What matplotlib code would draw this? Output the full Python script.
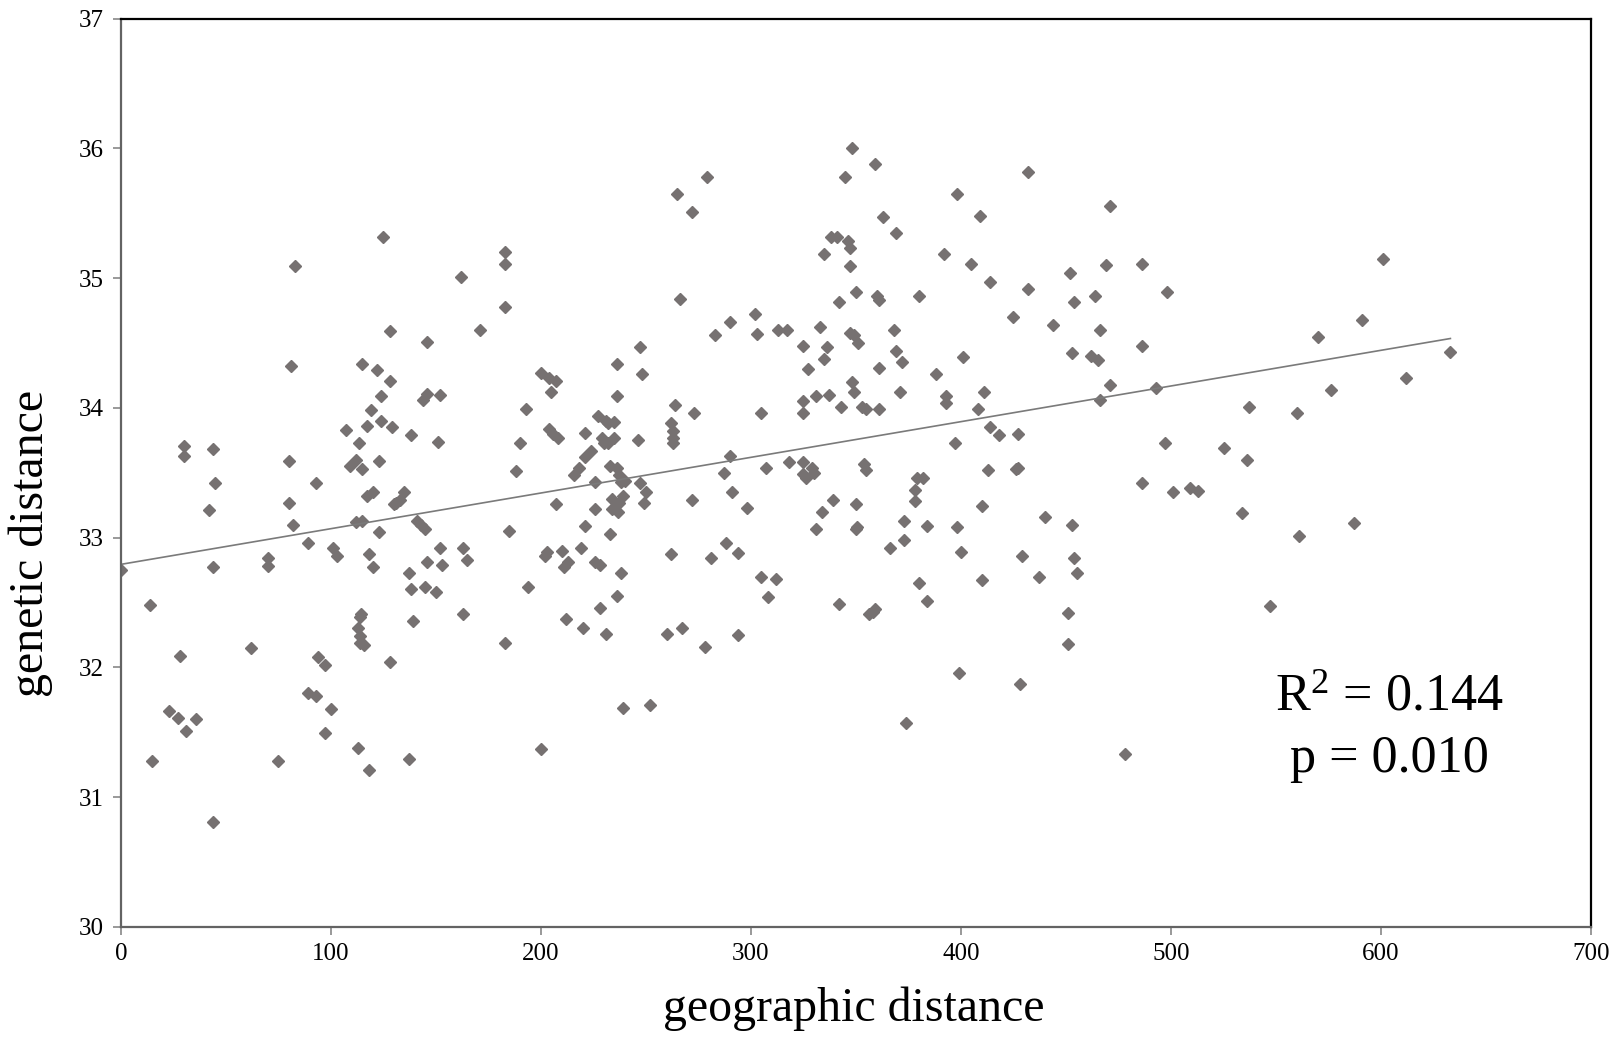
import matplotlib
matplotlib.use("Agg")
import matplotlib.pyplot as plt
import numpy as np

# geographic vs genetic distance between population pairs
geo = [0, 14, 15, 28, 30, 30, 23, 27, 31, 36, 42, 44, 45, 44, 44, 62, 70, 70, 75, 80,
       80, 81, 82, 83, 89, 89, 93, 93, 94, 97, 97, 100, 101, 103, 107, 109, 112, 112, 113, 113,
       114, 114.5, 114, 114, 115, 115, 115, 116, 117, 117, 118, 118, 119, 120, 120, 122, 123, 123, 124, 124,
       125, 128, 128, 128, 129, 130, 131, 133, 135, 137, 137, 138, 138, 139, 141, 143, 144, 145, 145, 146,
       146, 146, 150, 151, 152, 152, 153, 162, 163, 163, 165, 171, 183, 183, 183, 183, 185, 188, 190, 193,
       194, 200, 200, 202, 203, 204, 204, 205, 206, 207, 207, 208, 210, 211, 212, 213, 216, 218, 219, 220,
       221, 221, 221, 224, 226, 226, 226, 227, 228, 228, 229, 230, 231, 231, 232, 232, 233, 233, 234, 234,
       235, 235, 236, 236, 236, 236.5, 237, 236, 237, 238, 238, 239, 239, 240, 246, 247, 247, 248, 249, 250,
       252, 260, 262, 262, 263, 263, 263, 264, 265, 266, 267, 272, 272, 273, 278, 279, 281, 283, 287, 288,
       290, 290, 291, 294, 294, 298, 302, 303, 305, 305, 307, 308, 312, 313, 317, 318, 325, 325, 325, 325,
       325, 326, 327, 329, 330, 331, 331, 333, 334, 335, 335, 336, 337, 338, 339, 341, 342, 342, 343, 345,
       346, 347, 347, 347, 348, 348, 349, 349, 350, 350, 350, 350.5, 351, 353, 354, 355, 355, 356, 358, 359,
       360, 359, 361, 361, 361, 363, 366, 368, 369, 369, 371, 372, 373, 373, 374, 378, 378, 379, 380, 380,
       382, 384, 384, 388, 392, 393, 393, 397, 398, 398, 399, 400, 401, 405, 408, 409, 410, 410, 411, 413,
       414, 414, 418, 425, 426, 427, 427, 428, 429, 432, 432, 437, 440, 444, 451, 451, 452, 453, 453, 454,
       454, 455, 462, 465, 464, 466, 466, 469, 471, 471, 478, 486, 486, 486, 493, 497, 498, 501, 509, 513,
       525, 534, 536, 537, 547, 560, 561, 570, 576, 587, 591, 601, 612, 633, 113.6]
gen = [32.75, 32.48, 31.28, 32.09, 33.71, 33.63, 31.66, 31.61, 31.51, 31.60, 33.21, 33.68, 33.42, 32.77, 30.81, 32.15, 32.84, 32.78, 31.28, 33.27,
       33.59, 34.32, 33.10, 35.09, 32.96, 31.80, 33.42, 31.78, 32.08, 32.02, 31.49, 31.68, 32.92, 32.86, 33.83, 33.55, 33.12, 33.60, 31.38, 32.30,
       32.39, 32.41, 32.24, 32.19, 33.13, 34.34, 33.53, 32.17, 33.86, 33.32, 32.87, 31.21, 33.98, 32.77, 33.35, 34.29, 33.04, 33.59, 33.90, 34.09,
       35.32, 32.04, 34.59, 34.21, 33.85, 33.26, 33.27, 33.29, 33.35, 31.29, 32.73, 32.60, 33.79, 32.36, 33.13, 33.10, 34.06, 33.07, 32.62, 34.11,
       32.81, 34.51, 32.58, 33.74, 34.10, 32.92, 32.79, 35.01, 32.92, 32.41, 32.83, 34.60, 35.20, 35.11, 34.78, 32.19, 33.05, 33.51, 33.73, 33.99,
       32.62, 34.27, 31.37, 32.86, 32.89, 34.23, 33.84, 34.12, 33.80, 34.21, 33.26, 33.77, 32.90, 32.77, 32.37, 32.81, 33.48, 33.54, 32.92, 32.30,
       33.62, 33.81, 33.09, 33.67, 33.43, 33.22, 32.81, 33.94, 32.79, 32.46, 33.77, 33.73, 33.90, 32.26, 33.73, 33.88, 33.55, 33.03, 33.22, 33.30,
       33.77, 33.89, 33.54, 32.55, 34.34, 33.20, 33.27, 34.09, 33.48, 33.43, 32.73, 33.32, 31.69, 33.44, 33.75, 34.47, 33.42, 34.26, 33.27, 33.35,
       31.71, 32.26, 32.87, 33.88, 33.82, 33.77, 33.73, 34.02, 35.65, 34.84, 32.30, 35.51, 33.29, 33.96, 32.16, 35.78, 32.84, 34.56, 33.50, 32.96,
       33.63, 34.66, 33.35, 32.25, 32.88, 33.23, 34.72, 34.57, 33.96, 32.70, 33.54, 32.54, 32.68, 34.60, 34.60, 33.58, 34.48, 33.96, 34.05, 33.58,
       33.49, 33.46, 34.30, 33.54, 33.50, 34.09, 33.07, 34.62, 33.20, 35.19, 34.38, 34.47, 34.10, 35.32, 33.29, 35.32, 34.82, 32.49, 34.01, 35.78,
       35.29, 35.23, 35.09, 34.58, 36.00, 34.20, 34.56, 34.12, 33.07, 34.89, 33.26, 33.08, 34.50, 34.01, 33.57, 33.52, 33.99, 32.41, 32.43, 32.45,
       34.86, 35.88, 34.83, 34.31, 33.99, 35.47, 32.92, 34.60, 35.35, 34.44, 34.12, 34.35, 33.13, 32.98, 31.57, 33.37, 33.28, 33.46, 34.86, 32.65,
       33.46, 33.09, 32.51, 34.26, 35.19, 34.09, 34.04, 33.73, 33.08, 35.65, 31.96, 32.89, 34.39, 35.11, 33.99, 35.48, 33.24, 32.67, 34.12, 33.52,
       34.97, 33.85, 33.79, 34.70, 33.53, 33.54, 33.80, 31.87, 32.86, 35.82, 34.92, 32.70, 33.16, 34.64, 32.42, 32.18, 35.04, 34.42, 33.10, 32.84,
       34.82, 32.73, 34.40, 34.37, 34.86, 34.60, 34.06, 35.10, 34.18, 35.56, 31.33, 35.11, 34.48, 33.42, 34.15, 33.73, 34.89, 33.35, 33.38, 33.36,
       33.69, 33.19, 33.60, 34.01, 32.47, 33.96, 33.01, 34.55, 34.14, 33.11, 34.68, 35.15, 34.23, 34.43, 33.73]

r2_text = "R$^{2}$ = 0.144"
p_text = "p = 0.010"

plt.rcParams['font.family'] = ['Liberation Serif', 'DejaVu Serif']
plt.rcParams['mathtext.fontset'] = 'custom'
plt.rcParams['mathtext.rm'] = 'Liberation Serif'
plt.rcParams['mathtext.it'] = 'Liberation Serif:italic'
plt.rcParams['mathtext.default'] = 'regular'

fig = plt.figure(figsize=(16.17, 10.39), dpi=100)
ax = fig.add_axes([0.0747, 0.108, 0.9093, 0.874])

ax.plot(geo, gen, linestyle='none', marker='D', ms=6.2, color='#767171', mec='#767171')

# linear trend line over the x range of the data
a, b = np.polyfit(geo, gen, 1)
xs = np.array([min(geo), max(geo)])
ax.plot(xs, a * xs + b, color='#7a7a7a', lw=1.2)

ax.set_xlim(0, 700)
ax.set_ylim(30, 37)
ax.set_xticks(np.arange(0, 701, 100))
ax.set_yticks(np.arange(30, 38, 1))
ax.tick_params(direction='out', length=6, width=1.2, color='#888888', labelsize=18, pad=6)

for side in ['left', 'bottom']:
    ax.spines[side].set_color('#636363')
    ax.spines[side].set_linewidth(1.6)
for side in ['top', 'right']:
    ax.spines[side].set_color('black')
    ax.spines[side].set_linewidth(1.6)

ax.set_xlabel("geographic distance", fontsize=34.5)
ax.xaxis.set_label_coords(0.4987, -0.066)
ax.set_ylabel("genetic distance", fontsize=34.5)
ax.yaxis.set_label_coords(-0.046, 0.422)

ax.text(0.863, 0.238, r2_text, transform=ax.transAxes,
        ha='center', va='baseline', fontsize=37.5)
ax.text(0.863, 0.170, p_text, transform=ax.transAxes,
        ha='center', va='baseline', fontsize=37.5)

fig.savefig("out.png", dpi=100)
